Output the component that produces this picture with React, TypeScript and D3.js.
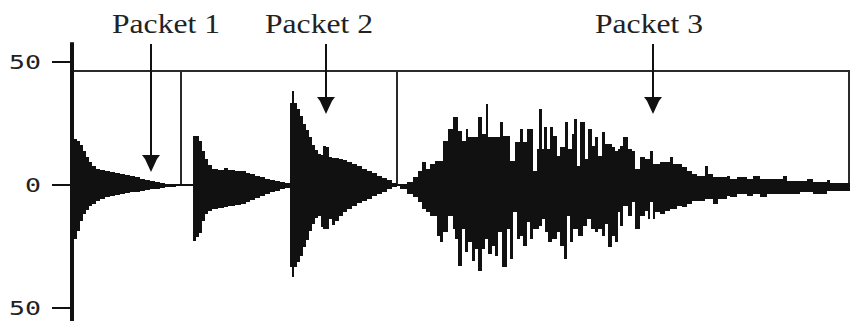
import * as d3 from "d3"

// envelope of the recorded signal: [sample, upper, lower]
const packet1: number[][] = [
  [0, 18.7, -22.0], [3, 17.9, -18.7], [6, 16.3, -14.6], [9, 13.8, -11.8], [12, 11.4, -10.2],
  [15, 9.3, -8.5], [18, 7.7, -7.7], [22, 6.5, -6.5], [26, 6.1, -5.7], [31, 5.7, -4.9],
  [36, 5.3, -4.5], [41, 4.9, -4.1], [46, 4.5, -3.7], [51, 4.1, -3.3], [56, 3.7, -2.8],
  [61, 3.3, -2.8], [66, 2.4, -2.4], [71, 2.0, -2.0], [76, 1.6, -1.6], [81, 1.2, -1.6],
  [86, 0.8, -1.2], [91, 0.4, -0.8], [102, 0.2, -0.4], [108, 0.2, -0.4],
]

const packet2: number[][] = [
  [119, 19.9, -22.8], [122, 19.9, -21.1], [125, 17.9, -19.5], [128, 13.8, -14.6], [131, 10.6, -11.8],
  [134, 8.1, -10.6], [138, 6.5, -9.8], [144, 6.1, -9.3], [150, 6.9, -8.9], [154, 6.1, -8.5],
  [161, 5.7, -8.1], [167, 5.7, -7.7], [172, 4.9, -6.9], [176, 4.5, -6.1], [181, 3.7, -5.3],
  [186, 3.3, -4.5], [191, 2.4, -3.7], [196, 2.0, -2.8], [201, 1.6, -2.4], [206, 1.2, -1.6],
  [211, 0.8, -1.2],
  [216, 33.3, -33.3], [218, 38.2, -37.4], [220, 33.3, -33.3], [223, 30.9, -31.3], [226, 28.0, -28.9],
  [229, 24.8, -25.2], [232, 22.4, -22.4], [235, 19.5, -18.7], [238, 16.3, -15.9], [241, 14.2, -13.4],
  [244, 12.6, -12.6], [247, 12.2, -17.1], [249, 15.9, -17.9], [252, 15.4, -17.9], [255, 11.4, -13.8],
  [258, 11.0, -16.3], [261, 11.0, -14.6], [265, 10.6, -12.6], [269, 10.2, -11.0], [273, 9.3, -9.8],
  [278, 8.5, -8.5], [283, 7.7, -7.3], [288, 6.5, -6.5], [293, 5.7, -5.7], [298, 4.9, -4.5],
  [303, 3.7, -3.7], [308, 2.8, -2.8], [313, 2.0, -1.6], [318, 0.8, -0.8], [323, 0.8, -0.8],
]

const packet3: number[][] = [
  [326, 0.4, -1.6], [333, 1.2, -3.7], [339, 3.3, -4.9], [344, 5.7, -6.9], [348, 9.3, -9.8],
  [352, 6.5, -11.0], [356, 8.5, -12.6], [361, 9.8, -12.6], [363, 9.8, -20.7], [366, 9.8, -23.2],
  [369, 17.9, -19.1], [374, 22.8, -12.6], [379, 27.6, -17.9], [381, 27.6, -22.0], [384, 22.0, -32.9],
  [388, 17.9, -17.9], [391, 17.9, -27.2], [392, 22.8, -27.2], [394, 19.5, -23.2], [398, 19.5, -30.9],
  [401, 19.5, -26.0], [404, 27.6, -35.0], [408, 20.7, -26.0], [411, 20.7, -22.0], [412, 32.9, -22.0],
  [414, 19.5, -28.0], [418, 19.5, -24.8], [421, 19.5, -28.9], [424, 19.5, -19.1], [426, 25.6, -19.1],
  [428, 25.6, -33.3], [429, 19.9, -33.3], [433, 19.9, -17.9], [436, 9.8, -30.1], [439, 9.8, -11.0],
  [441, 17.5, -11.0], [443, 17.5, -22.0], [446, 22.8, -20.7], [449, 17.5, -24.8], [453, 22.8, -15.0],
  [456, 22.8, -22.0], [459, 5.7, -17.9], [463, 14.6, -17.9], [465, 30.9, -16.7], [468, 14.6, -13.8],
  [470, 23.6, -13.8], [471, 23.6, -19.1], [473, 14.6, -19.1], [474, 14.6, -23.2], [476, 23.6, -23.2],
  [478, 23.6, -22.0], [479, 19.9, -22.0], [483, 11.8, -19.1], [486, 15.4, -24.8], [490, 15.4, -30.1],
  [491, 25.6, -30.1], [493, 25.6, -12.6], [494, 14.6, -12.6], [496, 14.6, -23.2], [498, 20.7, -23.2],
  [499, 20.7, -17.9], [500, 26.8, -17.9], [503, 7.7, -17.9], [504, 7.7, -20.7], [506, 25.6, -20.7],
  [509, 25.6, -16.7], [511, 10.6, -16.7], [513, 10.6, -13.8], [514, 22.8, -13.8], [517, 22.8, -17.9],
  [518, 15.9, -17.9], [521, 19.5, -19.1], [524, 11.8, -17.9], [528, 21.5, -20.7], [531, 16.7, -15.9],
  [534, 16.7, -25.2], [538, 15.4, -20.7], [541, 13.8, -23.2], [544, 14.6, -11.0], [546, 15.9, -16.7],
  [549, 19.5, -8.5], [554, 14.6, -12.6], [558, 13.8, -6.9], [561, 6.5, -17.9], [566, 11.4, -12.6],
  [571, 10.6, -10.6], [574, 10.6, -13.8], [576, 13.8, -6.9], [579, 8.5, -13.8], [581, 8.5, -11.0],
  [586, 9.3, -11.8], [591, 9.3, -10.6], [596, 11.4, -9.8], [599, 8.5, -9.8], [603, 8.5, -8.5],
  [608, 7.3, -8.9], [613, 5.7, -7.7], [618, 4.5, -6.5], [623, 3.7, -6.5], [631, 7.7, -5.7],
  [634, 4.5, -5.7], [639, 3.3, -7.7], [644, 3.3, -5.7], [653, 3.7, -4.5], [656, 2.4, -4.9],
  [663, 3.3, -3.7], [673, 2.4, -4.5], [679, 3.7, -3.7], [686, 2.4, -4.9], [693, 2.4, -3.7],
  [709, 3.7, -3.7], [713, 1.6, -3.7], [726, 1.6, -2.8], [733, 2.4, -2.8], [739, 1.2, -3.7],
  [746, 1.2, -3.7], [753, 2.0, -2.4], [756, 0.8, -2.4], [776, 0.8, -2.4],
]

const packets = [packet1, packet2, packet3]
const boundaries = [107, 323, 775]
const frameLevel = 46.3

const labels = ["Packet 1", "Packet 2", "Packet 3"]
const labelAt = [92, 245, 575]
const arrowAt = [77, 252, 579]
const arrowTip = [5.3, 28.9, 28.9]

const yTicks = [50, 0, -50]

export default function App() {
  const width = 850
  const height = 321

  const x = d3.scaleLinear().domain([0, 776]).range([74, 850])
  const y = d3.scaleLinear().domain([-50, 50]).range([308, 62])

  const area = d3
    .area<number[]>()
    .x((d) => x(d[0]))
    .y0((d) => y(d[2]))
    .y1((d) => y(d[1]))
    .curve(d3.curveStepAfter)

  const monoTick = "DejaVu Sans Mono, monospace"
  const labelFont = "Liberation Serif, serif"

  return (
    <svg
      width={width}
      height={height}
      style={{ position: "absolute", left: 0, top: 0, background: "#fff" }}
    >
      {/* frame line and packet separators */}
      <line x1={x(0)} x2={width} y1={y(frameLevel)} y2={y(frameLevel)} stroke="#2a2a2a" strokeWidth={2} />
      {boundaries.map((b, i) => (
        <line key={i} x1={x(b)} x2={x(b)} y1={y(frameLevel)} y2={y(0)} stroke="#2a2a2a" strokeWidth={2} />
      ))}

      {/* zero trace */}
      <line x1={x(0)} x2={x(776)} y1={y(0)} y2={y(0)} stroke="#111" strokeWidth={2} />

      {/* waveform */}
      {packets.map((p, i) => (
        <path key={i} d={area(p) || ""} fill="#111" shapeRendering="crispEdges" />
      ))}

      {/* y axis */}
      <line x1={72} x2={72} y1={y(58)} y2={height} stroke="#111" strokeWidth={4} />
      {yTicks.map((t) => (
        <g key={t}>
          <line x1={52} x2={72} y1={y(t)} y2={y(t)} stroke="#111" strokeWidth={2} />
          <text
            x={41}
            y={y(t)}
            dy="0.36em"
            textAnchor="end"
            fontFamily={monoTick}
            fontSize={20}
            fill="#222"
            textLength={String(Math.abs(t)).length * 16}
            lengthAdjust="spacingAndGlyphs"
          >
            {Math.abs(t)}
          </text>
        </g>
      ))}

      {/* labels and arrows */}
      {labels.map((l, i) => {
        const ax = x(arrowAt[i])
        const tipY = y(arrowTip[i])
        return (
          <g key={l}>
            <text
              x={x(labelAt[i])}
              y={33}
              textAnchor="middle"
              fontFamily={labelFont}
              fontSize={28}
              fill="#222"
              textLength={108}
              lengthAdjust="spacingAndGlyphs"
            >
              {l}
            </text>
            <line x1={ax} x2={ax} y1={44} y2={tipY - 12} stroke="#111" strokeWidth={2} />
            <path
              d={`M${ax - 9},${tipY - 17} L${ax + 9},${tipY - 17} L${ax + 6},${tipY - 13} L${ax},${tipY} L${ax - 6},${tipY - 13} Z`}
              fill="#111"
            />
          </g>
        )
      })}
    </svg>
  )
}
